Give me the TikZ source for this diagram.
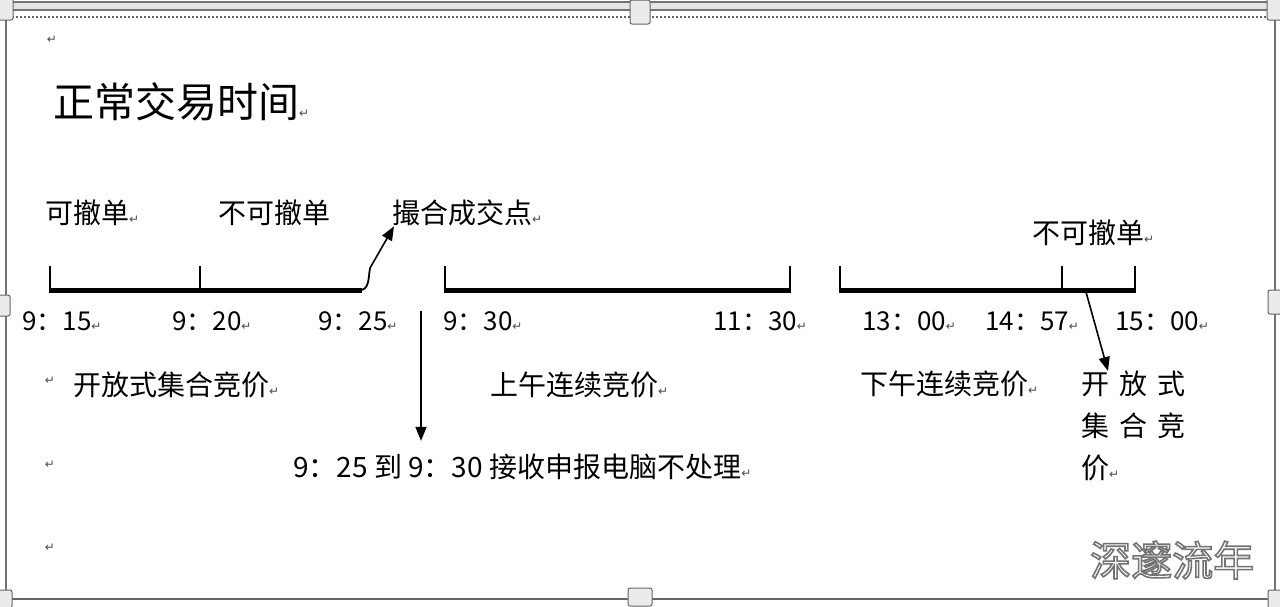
\documentclass[tikz,border=0pt]{standalone}
\usepackage{fontspec}
\newfontfamily\cjk{Noto Sans CJK SC}
\newfontfamily\dejavu{DejaVu Sans}
\usetikzlibrary{arrows.meta,calc}
\newcommand\parmk{{\dejavu\fontsize{12pt}{12pt}\selectfont\textcolor{black!70}{↵}}}
\newcommand\outlinetext[1]{\special{pdf:literal 0.45 G 1.6 w 2 Tr}#1\special{pdf:literal 0 Tr}}
\begin{document}
\begin{tikzpicture}[x=1pt,y=-1pt,
  lbl/.style={font=\cjk\fontsize{28pt}{34pt}\selectfont, inner sep=0pt, anchor=west},
  tm/.style={font=\cjk\fontsize{26pt}{30pt}\selectfont, inner sep=0pt, anchor=west},
  mk/.style={inner sep=0pt},
  axisline/.style={line width=5pt},
  tickline/.style={line width=2.5pt},
  arr/.style={line width=1.6pt, -{Triangle[length=14pt,width=11pt]}},
  frame/.style={draw=black!55, line width=1.2pt},
  handle/.style={draw=black!60, fill=black!8, line width=1pt, rounded corners=2pt},
  wm/.style={font=\cjk\fontsize{41pt}{48pt}\selectfont, inner sep=0pt, anchor=west}
]
\useasboundingbox (0,0) rectangle (1280,606);
\fill[white] (0,0) rectangle (1280,606);
% frame of the text box
\fill[black!10] (0,2) rectangle (1280,10);
\draw[frame] (0,2) -- (1280,2);
\draw[frame] (0,10) -- (1280,10);
\draw[black!60, line width=1.5pt, dash pattern=on 2pt off 2pt] (12,17) -- (1268,17);
\draw[frame] (6,12) -- (6,599);
\draw[frame] (1275,12) -- (1275,599);
\draw[black!60, line width=1.5pt] (0,599) -- (1280,599);
\draw[handle] (630,0) rectangle (650,24);
\draw[handle] (628,588) rectangle (652,606);
\draw[handle] (-2,295) rectangle (10,316);
\draw[handle] (1268,290) rectangle (1282,314);
\draw[handle] (-2,-2) rectangle (13,20);
\draw[handle] (1267,-2) rectangle (1282,20);
\draw[handle] (-2,590) rectangle (12,608);
\draw[handle] (1268,590) rectangle (1282,608);

% paragraph marks at left margin
\node[mk] (m1) at (52,40) {\parmk};
\node[mk] (m2) at (50,381) {\parmk};
\node[mk] (m3) at (50,465) {\parmk};
\node[mk] (m4) at (50,548) {\parmk};

% title
\node[font=\cjk\fontsize{41pt}{48pt}\selectfont, inner sep=0pt, anchor=west] (title) at (53,102) {正常交易时间\parmk};

% upper labels
\node[lbl] (kc) at (45,213) {可撤单\parmk};
\node[lbl] (bkc1) at (218,213) {不可撤单};
\node[lbl] (cuo) at (392,213) {撮合成交点\parmk};
\node[lbl] (bkc2) at (1032,233) {不可撤单\parmk};

% time labels
\node[tm] (t0915) at (22,321) {9：15\parmk};
\node[tm] (t0920) at (172,321) {9：20\parmk};
\node[tm] (t0925) at (318,321) {9：25\parmk};
\node[tm] (t0930) at (443,321) {9：30\parmk};
\node[tm] (t1130) at (713,321) {11：30\parmk};
\node[tm] (t1300) at (862,321) {13：00\parmk};
\node[tm] (t1457) at (985,321) {14：57\parmk};
\node[tm] (t1500) at (1115,321) {15：00\parmk};

% session labels
\node[lbl] (open1) at (73,385) {开放式集合竞价\parmk};
\node[lbl] (am) at (490,385) {上午连续竞价\parmk};
\node[lbl] (pm) at (860,384) {下午连续竞价\parmk};
\node[font=\cjk\fontsize{28pt}{42pt}\selectfont, inner sep=0pt, anchor=north west, align=left] (kfs) at (1081,371)
  {开\hspace{10pt}放\hspace{10pt}式\\集\hspace{10pt}合\hspace{10pt}竞\\价\parmk};
\node[lbl] (proc) at (293,467) {9：25 到 9：30 接收申报电脑不处理\parmk};

% timeline 1
\draw[tickline] (50,266) -- (50,290);
\draw[tickline] (200,266) -- (200,290);
\draw[axisline] (48.75,290) -- (362,290);
\coordinate (b1) at (370,268);
\draw[line width=1.8pt] (360,290) to[out=0,in=-100] (b1);
\draw[arr] (b1) -- ([xshift=2pt]cuo.south west);

% timeline 2
\draw[tickline] (445,266) -- (445,290);
\draw[tickline] (790,266) -- (790,290);
\draw[axisline] (443.75,290) -- (791.25,290);

% timeline 3
\draw[tickline] (840,266) -- (840,290);
\draw[tickline] (1062,266) -- (1062,290);
\draw[tickline] (1135,266) -- (1135,290);
\draw[axisline] (838.75,290) -- (1136.25,290);
\coordinate (s3) at (1086,292);
\draw[arr] (s3) -- ([xshift=27pt]kfs.north west);

% vertical arrow between 9:25 and 9:30
\coordinate (s2) at (421,311);
\path ([yshift=13pt]proc.north) coordinate (pn);
\draw[arr] (s2) -- (s2 |- pn);

% watermark (white text with grey outline)
\node[wm, text=white] (wm) at (1090,560) {\outlinetext{深邃流年}};
\end{tikzpicture}
\end{document}
